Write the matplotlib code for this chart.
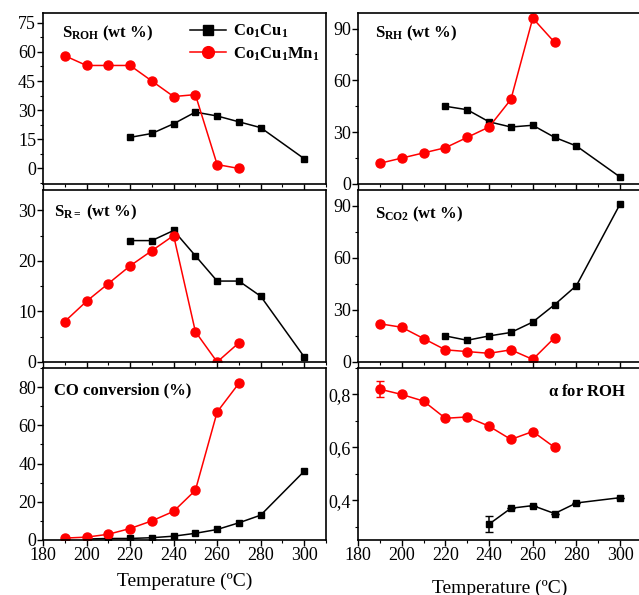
import numpy as np
import matplotlib
matplotlib.use("Agg")
import matplotlib.pyplot as plt
from matplotlib.ticker import MultipleLocator, FuncFormatter

plt.rcParams['font.family'] = ['Liberation Serif', 'DejaVu Serif']
plt.rcParams['mathtext.fontset'] = 'custom'
plt.rcParams['mathtext.rm'] = 'Liberation Serif'
plt.rcParams['mathtext.bf'] = 'Liberation Serif:bold'
plt.rcParams['mathtext.it'] = 'Liberation Serif:italic'

# temperatures (C)
t_cocu = [220, 230, 240, 250, 260, 270, 280, 300]
t_mn = [190, 200, 210, 220, 230, 240, 250, 260, 270]
t_conv_cocu = [200, 210, 220, 230, 240, 250, 260, 270, 280, 300]
t_alpha_cocu = [240, 250, 260, 270, 280, 300]

# S_ROH
sroh_cocu = [16, 18, 23, 29, 27, 24, 21, 5]
sroh_mn = [58, 53, 53, 53, 45, 37, 38, 2, 0]
# S_RH
srh_cocu = [45, 43, 36, 33, 34, 27, 22, 4]
srh_mn = [12, 15, 18, 21, 27, 33, 49, 96, 82]
# S_R=
sre_cocu = [24, 24, 26, 21, 16, 16, 13, 1]
sre_mn = [8, 12, 15.5, 19, 22, 25, 6, 0, 3.8]
# S_CO2
sco2_cocu = [15, 12.5, 15, 17, 23, 33, 44, 91]
sco2_mn = [22, 20, 13.5, 7, 6, 5, 7, 1.5, 14]
# CO conversion
conv_cocu = [0.5, 0.8, 0.8, 1.2, 2, 3.5, 5.5, 9, 13, 36]
conv_mn = [1, 1.5, 3, 6, 10, 15, 26, 67, 82]
# alpha for ROH
alpha_cocu = [0.31, 0.37, 0.38, 0.35, 0.39, 0.41]
alpha_cocu_err = [0.03, 0, 0, 0, 0, 0]
alpha_mn = [0.82, 0.80, 0.775, 0.71, 0.715, 0.68, 0.63, 0.66, 0.60]
alpha_mn_err = [0.03, 0, 0, 0, 0, 0, 0, 0, 0]

W, H = 639, 595
fig = plt.figure(figsize=(W / 100, H / 100), dpi=100)


def make_ax(left, top, width, height):
    return fig.add_axes([left / W, (H - top - height) / H, width / W, height / H])


cols = [(43, 283), (358, 284)]
rows = [(13, 171), (190, 172), (368, 172)]

panels = [
    (r'$\mathbf{S_{ROH}}$ (wt %)', sroh_cocu, sroh_mn, (-8, 80), 15, 0.067, 0.88),
    (r'$\mathbf{S_{RH}}$ (wt %)', srh_cocu, srh_mn, (0, 99), 30, 0.06, 0.88),
    (r'$\mathbf{S_{R=}}$ (wt %)', sre_cocu, sre_mn, (0, 34), 10, 0.04, 0.87),
    (r'$\mathbf{S_{CO2}}$ (wt %)', sco2_cocu, sco2_mn, (0, 99), 30, 0.06, 0.86),
]

black_kw = dict(color='black', marker='s', markersize=5, lw=1.1)
red_kw = dict(color='#ff0000', marker='o', markersize=6.5, lw=1.1)


def style(ax, major, bottom):
    ax.set_xlim(180, 310)
    ax.xaxis.set_major_locator(MultipleLocator(20))
    ax.xaxis.set_minor_locator(MultipleLocator(10))
    ax.yaxis.set_major_locator(MultipleLocator(major))
    ax.yaxis.set_minor_locator(MultipleLocator(major / 2))
    ax.tick_params(which='major', direction='out', length=4, width=1, labelsize=13, pad=1)
    ax.tick_params(which='minor', direction='out', length=2.5, width=0.8)
    if not bottom:
        ax.tick_params(axis='x', labelbottom=False)
    for s in ax.spines.values():
        s.set_linewidth(1.2)


for i, (title, yc, ym, ylim, major, tx, ty) in enumerate(panels):
    r, c = divmod(i, 2)
    ax = make_ax(cols[c][0], rows[r][0], cols[c][1], rows[r][1])
    ax.plot(t_cocu, yc, label=r'$\mathbf{Co_1Cu_1}$', **black_kw)
    ax.plot(t_mn, ym, label=r'$\mathbf{Co_1Cu_1Mn_1}$', **red_kw)
    ax.set_ylim(*ylim)
    style(ax, major, False)
    ax.text(tx, ty, title, transform=ax.transAxes, fontsize=12, fontweight='bold', va='center')
    if i == 0:
        ax.legend(loc='upper right', bbox_to_anchor=(1.03, 1.03), frameon=False,
                  fontsize=12, handlelength=2.2, handletextpad=0.4, labelspacing=0.3,
                  markerscale=1.3)

# CO conversion
ax = make_ax(cols[0][0], rows[2][0], cols[0][1], rows[2][1])
ax.plot(t_conv_cocu, conv_cocu, **black_kw)
ax.plot(t_mn, conv_mn, **red_kw)
ax.set_ylim(0, 90)
style(ax, 20, True)
ax.text(0.04, 0.87, 'CO conversion (%)', transform=ax.transAxes, fontsize=12,
        fontweight='bold', va='center')
ax.set_xlabel('Temperature (ºC)', fontsize=14, labelpad=6)

# alpha
ax = make_ax(cols[1][0], rows[2][0], cols[1][1], rows[2][1])
ax.errorbar(t_alpha_cocu, alpha_cocu, yerr=alpha_cocu_err, capsize=3, **black_kw)
ax.errorbar(t_mn, alpha_mn, yerr=alpha_mn_err, capsize=3, **red_kw)
ax.set_ylim(0.25, 0.9)
style(ax, 0.2, True)
ax.yaxis.set_major_formatter(FuncFormatter(lambda v, p: ('%.1f' % v).replace('.', ',')))
ax.text(0.945, 0.86, r'$\mathbf{\alpha}$ for ROH', transform=ax.transAxes, fontsize=12,
        fontweight='bold', va='center', ha='right')
ax.set_xlabel('Temperature (ºC)', fontsize=14, labelpad=11)

fig.savefig('out.png', dpi=100)
